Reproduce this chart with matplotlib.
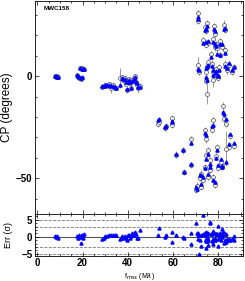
import numpy as np
import matplotlib.pyplot as plt
from matplotlib.ticker import MultipleLocator

plt.rcParams['font.family'] = ['Liberation Sans', 'DejaVu Sans']

# closure phase vs max spatial frequency, MWC158
f_max = [8.0, 8.4, 8.8, 9.2,
         17.6, 18.1, 18.6, 19.3, 19.9, 19.0, 19.6, 20.2, 20.8,
         28.5, 29.3, 30.1, 31.0, 31.8, 32.6, 33.4, 34.2, 35.0, 36.6,
         37.5, 38.0, 38.6, 39.2, 39.6, 40.1, 40.6, 41.1, 41.6, 42.1, 42.7, 43.2, 43.8, 44.3, 44.7, 45.4,
         53.3, 53.8, 56.5, 56.8, 59.4, 59.6, 61.3, 64.5, 65.0, 67.8, 68.2,
         71.0, 71.2, 74.2, 74.8, 75.2, 78.2, 78.6, 82.5, 82.9,
         73.5, 74.4, 75.3, 77.8, 78.4, 79.0, 80.8, 81.6,
         77.0, 79.5, 80.7, 82.9, 75.5, 71.0, 71.6, 74.8, 75.0, 77.2, 77.9, 78.5, 79.2, 79.8, 80.3,
         83.2, 84.0, 85.0, 86.0, 87.2, 74.8, 75.0, 77.8, 80.0,
         82.2, 82.5, 83.3, 77.8, 77.4, 74.1, 74.4, 85.1, 86.9, 85.0, 83.4, 79.3, 81.2, 81.5, 81.9,
         75.6, 74.8, 76.3, 76.6, 77.8, 78.5, 71.9, 70.4, 70.8, 72.6, 72.3, 73.4, 74.2, 75.3, 79.0, 80.0]
cp_obs = [0.3, -0.2, 0.1, -0.5,
          0.6, -0.2, -0.8, -1.4, -0.7, 4.0, 3.8, 3.4, 3.6,
          -5.2, -4.8, -4.3, -4.6, -4.0, -5.6, -4.4, -5.6, -5.9, -1.0,
          -0.6, -2.0, -1.0, -3.6, -6.9, -2.2, -1.4, -3.1, -5.6, -2.0, -0.9, 0.1, -2.6, -4.1, -6.0, -4.6,
          -23.5, -22.3, -25.6, -24.2, -20.4, -24.1, -38.4, -36.4, -46.9, -31.0, -43.6,
          30.8, 27.1, 24.0, 22.3, 26.2, 24.8, 20.6, 25.2, 22.5,
          17.6, 15.4, 16.4, 18.3, 14.4, 16.0, 17.4, 14.4,
          11.0, 13.6, 10.2, 12.6, 7.0, 5.4, 2.0, 2.2, 5.2, 6.2, 2.0, 0.4, 3.6, -0.4, 4.4,
          6.2, 2.8, 5.4, 2.0, 4.6, -2.2, -8.5, -2.0, -1.0,
          -14.6, -21.2, -23.2, -21.6, -26.5, -26.5, -31.0, -29.5, -34.4, -34.8, -35.5, -34.6, -42.0, -44.4, -44.2,
          -36.3, -38.7, -41.0, -46.0, -49.4, -53.4, -50.0, -55.9, -53.6, -54.3, -47.7, -51.0, -44.4, -49.4, -39.0, -45.0]
cp_err = [0.6, 0.6, 0.6, 0.6,
          0.8, 0.8, 0.8, 0.8, 0.8, 0.8, 0.8, 0.8, 0.8,
          0.9, 0.9, 0.9, 0.9, 1.0, 2.6, 1.0, 1.0, 1.0, 5.0,
          1.2, 1.2, 1.2, 1.2, 1.5, 1.2, 1.2, 1.2, 1.5, 1.2, 1.2, 1.2, 1.2, 1.5, 2.0, 1.5,
          1.5, 1.5, 1.5, 1.5, 1.5, 1.5, 1.5, 1.5, 1.5, 1.5, 1.5,
          1.5, 1.5, 1.5, 1.5, 1.5, 1.5, 1.5, 2.2, 1.5,
          1.5, 1.5, 1.5, 1.5, 2.0, 1.5, 1.5, 1.5,
          1.5, 3.0, 1.5, 1.5, 1.5, 4.0, 1.5, 1.5, 1.5, 1.5, 1.5, 1.5, 1.5, 1.5, 1.5,
          1.5, 1.5, 1.5, 1.5, 1.5, 1.5, 5.0, 3.5, 1.5,
          2.0, 1.5, 1.5, 1.5, 1.5, 1.5, 1.5, 1.5, 1.5, 1.5, 8.5, 1.5, 1.5, 1.5, 1.5,
          1.5, 1.5, 1.5, 1.5, 1.5, 1.5, 1.5, 1.5, 1.5, 1.5, 1.5, 1.5, 1.5, 1.5, 1.5, 1.5]
cp_model = [0.2, 0.0, -0.3, -0.5,
            0.4, 0.1, -0.5, -1.0, -0.4, 3.8, 3.7, 3.6, 3.5,
            -5.0, -4.6, -4.3, -4.5, -4.2, -4.8, -4.6, -5.3, -5.6, -4.4,
            -0.9, -1.6, -1.4, -3.0, -6.2, -2.6, -1.8, -2.7, -5.9, -2.4, -1.3, -0.3, -3.0, -3.5, -5.2, -5.4,
            -21.6, -21.2, -24.8, -24.2, -22.0, -22.6, -38.2, -36.0, -46.8, -32.8, -43.0,
            29.2, 28.2, 22.6, 23.3, 24.4, 23.0, 22.2, 23.0, 23.8,
            16.5, 16.8, 17.4, 16.8, 15.6, 14.6, 15.9, 15.6,
            9.6, 10.8, 10.4, 11.4, 5.4, 3.5, 3.0, 4.0, 4.6, 5.0, 3.2, 1.6, 2.4, 0.6, 3.0,
            4.8, 3.8, 6.6, 3.0, 4.4, -0.6, -2.0, 0.4, 0.2,
            -17.4, -18.6, -21.0, -24.0, -24.6, -28.0, -29.0, -28.1, -32.7, -33.3, -42.0, -36.0, -40.4, -44.6, -44.2,
            -38.0, -40.6, -43.0, -44.5, -51.0, -52.0, -48.5, -54.3, -55.4, -52.6, -48.6, -49.4, -45.2, -48.0, -40.0, -43.5]
resid = [0.2, -0.1, 0.3, -0.3,
         0.2, -0.3, 0.4, -1.8, 0.6, 0.0, 0.5, -0.4, 0.8,
         -0.8, -0.4, 0.1, 0.3, 0.5, 0.6, 0.4, 0.5, 0.5, -0.7,
         0.3, -0.4, 0.2, -0.5, -1.1, 0.4, 0.6, -0.3, 0.3, 1.0, 0.5, 1.4, 0.8, -0.5, -0.3, 1.9,
         0.4, 2.5, -0.1, 0.6, 1.4, -1.4, 0.4, -0.1, -0.4, 1.2, -2.2,
         1.1, -0.7, 0.9, -0.6, 1.2, 1.2, -1.1, 1.0, -0.9,
         0.7, -0.9, -0.6, 1.0, -0.6, 0.9, 1.0, 2.4,
         0.9, 0.9, -0.1, 0.8, 1.1, 0.5, -5.0, -3.3, 0.4, 0.8, -2.0, -0.8, 0.8, -2.6, 0.9,
         0.9, -0.7, -0.8, -0.7, 0.1, -1.1, -1.3, -0.7, -0.8,
         1.4, -1.7, -1.5, 1.6, -1.3, 1.0, -1.3, -0.9, -1.1, -1.0, 0.8, 0.9, -1.1, 0.1, 0.0,
         -2.5, 1.3, 4.5, 4.1, 1.1, -0.9, -1.0, 4.1, 1.2, -2.8, 0.6, 6.5, 0.5, -0.9, 0.7, 3.1]

fig = plt.figure(figsize=(2.45, 2.81), dpi=100)
ax = fig.add_axes([0.143, 0.238, 0.849, 0.758])
ax2 = fig.add_axes([0.143, 0.090, 0.849, 0.148], sharex=ax)

#%% top panel
ax.errorbar(f_max, cp_obs, yerr=cp_err, fmt='o', ms=2.8, mfc='white', mec='#333333',
            mew=0.45, ecolor='#888888', elinewidth=0.6, capsize=0, zorder=2)
ax.plot(f_max, cp_model, '^', ms=2.3, color='#0000ff', mec='#0000ff', zorder=3)
ax.set_xlim(-1, 91)
ax.set_ylim(-67.6, 36.8)
ax.yaxis.set_major_locator(MultipleLocator(50))
ax.yaxis.set_minor_locator(MultipleLocator(10))
ax.set_ylabel('CP (degrees)', fontsize=8.5)
ax.yaxis.set_label_coords(-0.105, 0.5)
ax.text(0.04, 0.975, 'MWC158', transform=ax.transAxes, fontsize=4.5,
        fontweight='bold', va='top')
ax.tick_params(labelbottom=False)

#%% residual panel
for lev in [5, 3, -3, -5]:
    ax2.axhline(lev, color='#777777', lw=0.6, ls='--', zorder=1)
ax2.axhline(0, color='#555555', lw=0.8, zorder=1)
ax2.plot(f_max, resid, '^', ms=2.2, color='#0000ff', mec='#0000ff', zorder=3)
ax2.set_ylim(-5.6, 6.7)
ax2.yaxis.set_major_locator(MultipleLocator(5))
ax2.yaxis.set_minor_locator(MultipleLocator(1))
ax2.set_ylabel('Err (σ)', fontsize=6.5)
ax2.yaxis.set_label_coords(-0.105, 0.5)
ax2.set_xlabel(r'f$_{\rm max}$ (M$\lambda$)', fontsize=5, labelpad=1.5)

for a in (ax, ax2):
    a.xaxis.set_major_locator(MultipleLocator(20))
    a.xaxis.set_minor_locator(MultipleLocator(5))
    a.tick_params(which='both', direction='in', top=True, right=True,
                  labelsize=7, width=0.5, pad=2)
    a.tick_params(which='major', length=3)
    a.tick_params(which='minor', length=1.5)
    for lab in a.get_xticklabels() + a.get_yticklabels():
        lab.set_fontweight('bold')
    for s in a.spines.values():
        s.set_linewidth(0.6)

fig.savefig('out.png', dpi=100)
